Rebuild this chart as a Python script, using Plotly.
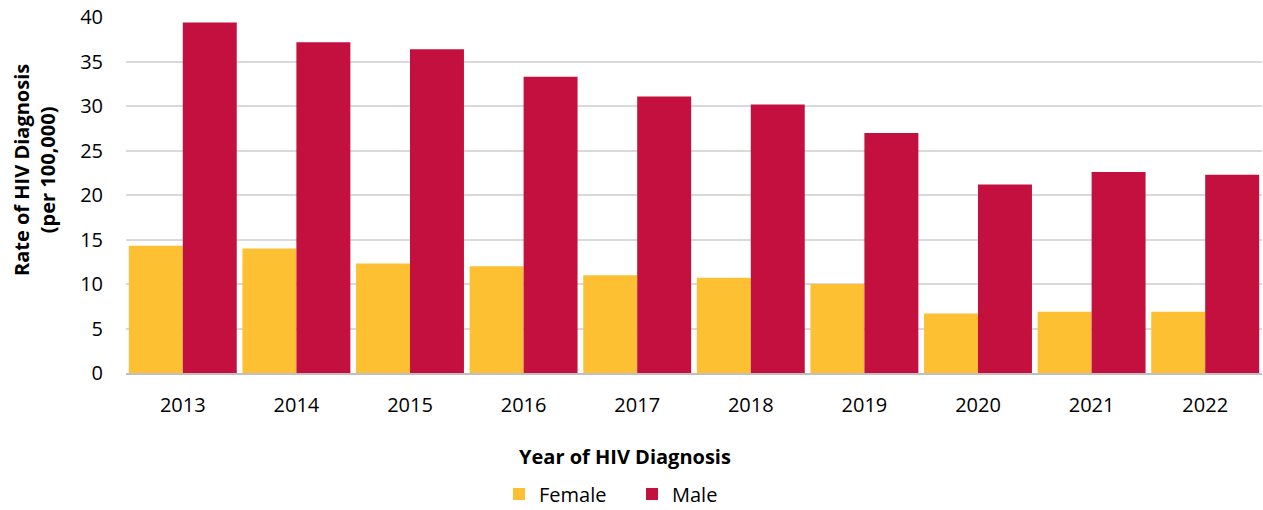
import plotly.graph_objects as go

years = ["2013", "2014", "2015", "2016", "2017", "2018", "2019", "2020", "2021", "2022"]
female = [14.3, 14.0, 12.3, 12.0, 11.0, 10.7, 10.0, 6.7, 6.9, 6.9]
male = [39.4, 37.2, 36.4, 33.3, 31.1, 30.2, 27.0, 21.2, 22.6, 22.3]
y_ticks = [0, 5, 10, 15, 20, 25, 30, 35, 40]

FONT = "Open Sans"
W, H = 1263, 510
L, R, T, B = 126, 1, 17, 137
PW, PH = W - L - R, H - T - B

def px_x(x):
    return (x - L) / PW

def px_y(y):
    return (H - B - y) / PH

fig = go.Figure()
fig.add_trace(go.Bar(name="Female", x=years, y=female, marker_color="#FDC033",
                     marker_line_width=0))
fig.add_trace(go.Bar(name="Male", x=years, y=male, marker_color="#C4103F",
                     marker_line_width=0))

fig.update_layout(
    width=W, height=H,
    barmode="group", bargap=0.05, bargroupgap=0,
    plot_bgcolor="white", paper_bgcolor="white",
    margin=dict(l=L, r=R, t=T, b=B, autoexpand=False),
    font=dict(family=FONT, size=20, color="#000000"),
    legend=dict(orientation="h", x=px_x(632), xanchor="center",
                y=px_y(494), yanchor="middle", font=dict(size=20),
                entrywidth=88, traceorder="normal"),
    showlegend=True,
    annotations=[
        dict(text="<b>Year of HIV Diagnosis</b>", xref="paper", yref="paper",
             x=px_x(625), y=px_y(457), xanchor="center", yanchor="middle",
             showarrow=False, font=dict(size=20)),
        dict(text="<b>Rate of HIV Diagnosis<br>(per 100,000)</b>", xref="paper",
             yref="paper", x=px_x(34), y=px_y(170), xanchor="center", yanchor="middle",
             textangle=-90, showarrow=False, font=dict(size=20)),
    ],
)
fig.update_yaxes(range=[0, 40.03], tickmode="array", tickvals=y_ticks,
                 showgrid=True, gridcolor="#D9D9D9", ticklabeloverflow="allow",
                 gridwidth=1.5, zeroline=False, showline=False, automargin=False,
                 ticks="", ticklabelstandoff=22)
fig.update_xaxes(showline=True, linecolor="#BFBFBF", linewidth=2, ticks="",
                 automargin=False, ticklabelstandoff=13)

fig.write_html("out.html", config={"displayModeBar": False},
               post_script="document.body.style.margin='0px';document.body.style.overflow='hidden';")
